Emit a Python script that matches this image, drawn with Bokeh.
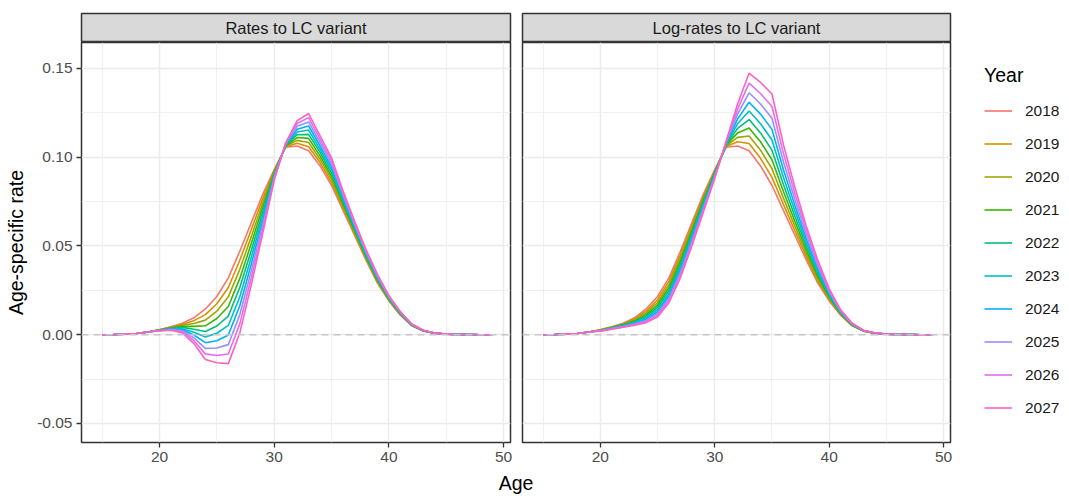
from bokeh.plotting import figure
from bokeh.layouts import row, column
from bokeh.models import (Range1d, FixedTicker, NumeralTickFormatter, Span, Label,
                          Legend, LegendItem)
from bokeh.embed import file_html
from bokeh.resources import INLINE

# ---------------- data ----------------
ages = [15, 16, 17, 18, 19, 20, 21, 22, 23, 24, 25, 26, 27, 28, 29, 30, 31, 32,
        33, 34, 35, 36, 37, 38, 39, 40, 41, 42, 43, 44, 45, 46, 47, 48, 49]
years = ["2018", "2019", "2020", "2021", "2022", "2023", "2024", "2025", "2026", "2027"]
colors = ["#F8766D", "#D89000", "#A3A500", "#39B600", "#00BF7D",
          "#00BFC4", "#00B0F6", "#9590FF", "#E76BF3", "#FF62BC"]
panel_titles = ["Rates to LC variant", "Log-rates to LC variant"]

# Panel 1: rates to LC variant
rates_2018 = [0.0000, 0.0001, 0.0003, 0.0007, 0.0015, 0.0028, 0.0045, 0.0065, 0.0095, 0.0145, 0.0215, 0.0320, 0.0470, 0.0630, 0.0790, 0.0930, 0.1055, 0.1062, 0.1035, 0.0950, 0.0840, 0.0700, 0.0560, 0.0420, 0.0290, 0.0190, 0.0110, 0.0050, 0.0020, 0.0008, 0.0003, 0.0001, 0.0001, 0.0000, 0.0000]
rates_2019 = [0.0000, 0.0001, 0.0003, 0.0007, 0.0015, 0.0027, 0.0043, 0.0059, 0.0079, 0.0113, 0.0174, 0.0266, 0.0419, 0.0591, 0.0766, 0.0923, 0.1058, 0.1078, 0.1058, 0.0969, 0.0857, 0.0712, 0.0569, 0.0427, 0.0296, 0.0193, 0.0112, 0.0051, 0.0021, 0.0008, 0.0003, 0.0001, 0.0001, 0.0000, 0.0000]
rates_2020 = [0.0000, 0.0001, 0.0003, 0.0007, 0.0015, 0.0027, 0.0041, 0.0053, 0.0063, 0.0082, 0.0132, 0.0213, 0.0368, 0.0552, 0.0741, 0.0917, 0.1061, 0.1094, 0.1082, 0.0988, 0.0874, 0.0724, 0.0578, 0.0433, 0.0301, 0.0197, 0.0114, 0.0052, 0.0021, 0.0008, 0.0003, 0.0001, 0.0001, 0.0000, 0.0000]
rates_2021 = [0.0000, 0.0001, 0.0003, 0.0007, 0.0015, 0.0026, 0.0038, 0.0047, 0.0047, 0.0050, 0.0091, 0.0159, 0.0317, 0.0513, 0.0717, 0.0910, 0.1063, 0.1110, 0.1105, 0.1007, 0.0892, 0.0737, 0.0587, 0.0440, 0.0307, 0.0200, 0.0117, 0.0053, 0.0022, 0.0008, 0.0003, 0.0001, 0.0001, 0.0000, 0.0000]
rates_2022 = [0.0000, 0.0001, 0.0003, 0.0007, 0.0015, 0.0025, 0.0036, 0.0041, 0.0031, 0.0018, 0.0049, 0.0105, 0.0266, 0.0474, 0.0692, 0.0903, 0.1066, 0.1126, 0.1128, 0.1026, 0.0909, 0.0749, 0.0596, 0.0447, 0.0312, 0.0203, 0.0119, 0.0054, 0.0022, 0.0008, 0.0003, 0.0001, 0.0001, 0.0000, 0.0000]
rates_2023 = [0.0000, 0.0001, 0.0003, 0.0007, 0.0015, 0.0025, 0.0034, 0.0034, 0.0014, -0.0013, 0.0008, 0.0052, 0.0214, 0.0436, 0.0668, 0.0897, 0.1069, 0.1141, 0.1152, 0.1044, 0.0926, 0.0761, 0.0604, 0.0453, 0.0318, 0.0207, 0.0121, 0.0056, 0.0023, 0.0009, 0.0003, 0.0001, 0.0001, 0.0000, 0.0000]
rates_2024 = [0.0000, 0.0001, 0.0003, 0.0007, 0.0015, 0.0024, 0.0032, 0.0028, -0.0002, -0.0045, -0.0034, -0.0002, 0.0163, 0.0397, 0.0643, 0.0890, 0.1072, 0.1157, 0.1175, 0.1063, 0.0943, 0.0773, 0.0613, 0.0460, 0.0323, 0.0210, 0.0123, 0.0057, 0.0023, 0.0009, 0.0003, 0.0001, 0.0001, 0.0000, 0.0000]
rates_2025 = [0.0000, 0.0001, 0.0003, 0.0007, 0.0015, 0.0023, 0.0029, 0.0022, -0.0018, -0.0077, -0.0075, -0.0056, 0.0112, 0.0358, 0.0619, 0.0883, 0.1074, 0.1173, 0.1198, 0.1082, 0.0961, 0.0786, 0.0622, 0.0467, 0.0329, 0.0213, 0.0126, 0.0058, 0.0024, 0.0009, 0.0003, 0.0001, 0.0001, 0.0000, 0.0000]
rates_2026 = [0.0000, 0.0001, 0.0003, 0.0007, 0.0015, 0.0023, 0.0027, 0.0016, -0.0034, -0.0108, -0.0117, -0.0109, 0.0061, 0.0319, 0.0594, 0.0877, 0.1077, 0.1189, 0.1222, 0.1101, 0.0978, 0.0798, 0.0631, 0.0473, 0.0334, 0.0217, 0.0128, 0.0059, 0.0024, 0.0009, 0.0003, 0.0001, 0.0001, 0.0000, 0.0000]
rates_2027 = [0.0000, 0.0001, 0.0003, 0.0007, 0.0015, 0.0022, 0.0025, 0.0010, -0.0050, -0.0140, -0.0158, -0.0163, 0.0010, 0.0280, 0.0570, 0.0870, 0.1080, 0.1205, 0.1245, 0.1120, 0.0995, 0.0810, 0.0640, 0.0480, 0.0340, 0.0220, 0.0130, 0.0060, 0.0025, 0.0009, 0.0003, 0.0001, 0.0001, 0.0000, 0.0000]

# Panel 2: log-rates to LC variant
logr_2018 = [0.0000, 0.0001, 0.0003, 0.0007, 0.0015, 0.0028, 0.0045, 0.0065, 0.0095, 0.0145, 0.0215, 0.0320, 0.0470, 0.0630, 0.0790, 0.0930, 0.1055, 0.1062, 0.1035, 0.0950, 0.0840, 0.0700, 0.0560, 0.0420, 0.0290, 0.0190, 0.0110, 0.0050, 0.0020, 0.0008, 0.0003, 0.0001, 0.0001, 0.0000, 0.0000]
logr_2019 = [0.0000, 0.0001, 0.0003, 0.0007, 0.0015, 0.0027, 0.0043, 0.0062, 0.0089, 0.0133, 0.0197, 0.0300, 0.0450, 0.0614, 0.0778, 0.0924, 0.1059, 0.1086, 0.1076, 0.0993, 0.0886, 0.0734, 0.0585, 0.0438, 0.0302, 0.0197, 0.0113, 0.0051, 0.0020, 0.0008, 0.0003, 0.0001, 0.0001, 0.0000, 0.0000]
logr_2020 = [0.0000, 0.0001, 0.0003, 0.0007, 0.0015, 0.0026, 0.0041, 0.0059, 0.0083, 0.0123, 0.0181, 0.0282, 0.0432, 0.0598, 0.0767, 0.0919, 0.1063, 0.1111, 0.1119, 0.1039, 0.0934, 0.0769, 0.0611, 0.0456, 0.0315, 0.0204, 0.0116, 0.0053, 0.0021, 0.0008, 0.0003, 0.0001, 0.0001, 0.0000, 0.0000]
logr_2021 = [0.0000, 0.0001, 0.0003, 0.0007, 0.0015, 0.0025, 0.0040, 0.0056, 0.0078, 0.0113, 0.0167, 0.0264, 0.0414, 0.0583, 0.0755, 0.0913, 0.1067, 0.1136, 0.1164, 0.1086, 0.0985, 0.0806, 0.0639, 0.0475, 0.0328, 0.0211, 0.0119, 0.0055, 0.0021, 0.0008, 0.0003, 0.0001, 0.0001, 0.0000, 0.0000]
logr_2022 = [0.0000, 0.0001, 0.0003, 0.0007, 0.0015, 0.0024, 0.0038, 0.0054, 0.0073, 0.0104, 0.0153, 0.0248, 0.0396, 0.0569, 0.0744, 0.0908, 0.1070, 0.1162, 0.1211, 0.1136, 0.1039, 0.0845, 0.0667, 0.0496, 0.0342, 0.0218, 0.0122, 0.0056, 0.0022, 0.0008, 0.0003, 0.0001, 0.0001, 0.0000, 0.0000]
logr_2023 = [0.0000, 0.0001, 0.0003, 0.0007, 0.0015, 0.0024, 0.0037, 0.0051, 0.0069, 0.0095, 0.0141, 0.0232, 0.0380, 0.0554, 0.0733, 0.0902, 0.1074, 0.1188, 0.1259, 0.1188, 0.1096, 0.0886, 0.0697, 0.0517, 0.0356, 0.0226, 0.0126, 0.0058, 0.0022, 0.0009, 0.0003, 0.0001, 0.0001, 0.0000, 0.0000]
logr_2024 = [0.0000, 0.0001, 0.0003, 0.0007, 0.0015, 0.0023, 0.0035, 0.0049, 0.0064, 0.0087, 0.0129, 0.0218, 0.0364, 0.0540, 0.0722, 0.0897, 0.1078, 0.1215, 0.1309, 0.1242, 0.1156, 0.0929, 0.0728, 0.0539, 0.0371, 0.0234, 0.0129, 0.0060, 0.0023, 0.0009, 0.0003, 0.0001, 0.0001, 0.0000, 0.0000]
logr_2025 = [0.0000, 0.0001, 0.0003, 0.0007, 0.0015, 0.0022, 0.0034, 0.0046, 0.0060, 0.0080, 0.0119, 0.0204, 0.0349, 0.0527, 0.0711, 0.0891, 0.1082, 0.1243, 0.1362, 0.1299, 0.1219, 0.0974, 0.0761, 0.0561, 0.0387, 0.0242, 0.0133, 0.0061, 0.0024, 0.0009, 0.0003, 0.0001, 0.0001, 0.0000, 0.0000]
logr_2026 = [0.0000, 0.0001, 0.0003, 0.0007, 0.0015, 0.0021, 0.0032, 0.0044, 0.0057, 0.0074, 0.0109, 0.0192, 0.0334, 0.0513, 0.0700, 0.0886, 0.1086, 0.1271, 0.1416, 0.1358, 0.1285, 0.1021, 0.0795, 0.0585, 0.0403, 0.0251, 0.0136, 0.0063, 0.0024, 0.0009, 0.0003, 0.0001, 0.0001, 0.0000, 0.0000]
logr_2027 = [0.0000, 0.0001, 0.0003, 0.0007, 0.0015, 0.0020, 0.0031, 0.0042, 0.0053, 0.0068, 0.0100, 0.0180, 0.0320, 0.0500, 0.0690, 0.0880, 0.1090, 0.1300, 0.1472, 0.1420, 0.1355, 0.1070, 0.0830, 0.0610, 0.0420, 0.0260, 0.0140, 0.0065, 0.0025, 0.0009, 0.0003, 0.0001, 0.0001, 0.0000, 0.0000]

x_ticks = [20, 30, 40, 50]
x_minor = [15, 25, 35, 45]
y_ticks = [-0.05, 0.0, 0.05, 0.10, 0.15]
y_minor = [-0.025, 0.025, 0.075, 0.125]

rates_series = [rates_2018, rates_2019, rates_2020, rates_2021, rates_2022,
                rates_2023, rates_2024, rates_2025, rates_2026, rates_2027]
logr_series = [logr_2018, logr_2019, logr_2020, logr_2021, logr_2022,
               logr_2023, logr_2024, logr_2025, logr_2026, logr_2027]

# ---------------- styling ----------------
FONT = "Liberation Sans"
X_RANGE = (13.2, 50.6)
Y_RANGE = (-0.0607, 0.1645)
GRID = "#ebebeb"
BORDER = "#333333"


def make_strip(text, left_b, right_b, frame_w):
    s = figure(frame_width=frame_w, frame_height=29, min_border_left=left_b,
               min_border_right=right_b, min_border_top=13, min_border_bottom=0,
               x_range=Range1d(0, 1), y_range=Range1d(0, 1),
               x_axis_location=None, y_axis_location=None,
               toolbar_location=None, output_backend="svg")
    s.grid.visible = False
    s.background_fill_color = "#d9d9d9"
    s.border_fill_color = "white"
    s.outline_line_color = BORDER
    s.outline_line_width = 1.5
    s.add_layout(Label(x=0.5, y=0.5, text=text, text_align="center",
                       text_baseline="middle", text_font=FONT,
                       text_font_size="16.5px", text_color="#1a1a1a"))
    return s


def make_panel(series, left_b, right_b, frame_w, show_y):
    p = figure(frame_width=frame_w, frame_height=400, min_border_left=left_b,
               min_border_right=right_b, min_border_top=0, min_border_bottom=30,
               x_range=Range1d(*X_RANGE), y_range=Range1d(*Y_RANGE),
               y_axis_location="left" if show_y else None,
               toolbar_location=None, output_backend="svg")
    p.background_fill_color = "white"
    p.border_fill_color = "white"
    p.outline_line_color = BORDER
    p.outline_line_width = 1.5

    xt = FixedTicker(ticks=x_ticks, minor_ticks=x_minor)
    yt = FixedTicker(ticks=y_ticks, minor_ticks=y_minor)
    p.xgrid.ticker = xt
    p.ygrid.ticker = yt
    for g in (p.xgrid, p.ygrid):
        g.grid_line_color = GRID
        g.grid_line_width = 1.4
        g.minor_grid_line_color = GRID
        g.minor_grid_line_width = 0.8

    p.xaxis.ticker = xt
    p.xaxis.axis_line_color = None
    p.xaxis.major_tick_line_color = BORDER
    p.xaxis.major_tick_line_width = 1.3
    p.xaxis.major_tick_out = 5
    p.xaxis.major_tick_in = 0
    p.xaxis.minor_tick_line_color = None
    p.xaxis.major_label_text_font = FONT
    p.xaxis.major_label_text_font_size = "15.5px"
    p.xaxis.major_label_text_color = "#4d4d4d"
    p.xaxis.major_label_standoff = 4

    if show_y:
        p.yaxis.ticker = yt
        p.yaxis.formatter = NumeralTickFormatter(format="0.00")
        p.yaxis.axis_line_color = None
        p.yaxis.major_tick_line_color = BORDER
        p.yaxis.major_tick_line_width = 1.3
        p.yaxis.major_tick_out = 5
        p.yaxis.major_tick_in = 0
        p.yaxis.minor_tick_line_color = None
        p.yaxis.major_label_text_font = FONT
        p.yaxis.major_label_text_font_size = "15.5px"
        p.yaxis.major_label_text_color = "#4d4d4d"
        p.yaxis.major_label_standoff = 4
        p.yaxis.axis_label = "Age-specific rate"
        p.yaxis.axis_label_text_font = FONT
        p.yaxis.axis_label_text_font_size = "19.5px"
        p.yaxis.axis_label_text_font_style = "normal"
        p.yaxis.axis_label_text_color = "black"
        p.yaxis.axis_label_standoff = 7

    for vals, c in zip(series, colors):
        p.line(ages, vals, line_color=c, line_width=1.6)
    p.add_layout(Span(location=0, dimension="width", line_color="#c6c6cc",
                      line_dash="7 5", line_width=1.6))
    return p


strip_l = make_strip(panel_titles[0], 81, 6, 429)
main_l = make_panel(rates_series, 81, 6, 429, True)
strip_r = make_strip(panel_titles[1], 6, 6, 428)
main_r = make_panel(logr_series, 6, 6, 428, False)

# legend panel (its own renderers are drawn outside its visible range; only the keys show)
leg = figure(frame_width=91, frame_height=406, min_border_left=28,
             min_border_right=0, min_border_top=64, min_border_bottom=0,
             x_range=Range1d(0, 1), y_range=Range1d(0, 1),
             x_axis_location=None, y_axis_location=None,
             toolbar_location=None, output_backend="svg")
leg.grid.visible = False
leg.outline_line_color = None
items = []
for yr, vals, c in zip(years, rates_series, colors):
    r = leg.line(ages, vals, line_color=c, line_width=1.6)
    items.append(LegendItem(label=yr, renderers=[r]))
legend = Legend(items=items, location="top_left", title="Year",
                title_text_font=FONT, title_text_font_size="19.5px",
                title_text_font_style="normal", title_text_color="black",
                title_standoff=7,
                label_text_font=FONT, label_text_font_size="15.5px",
                label_text_color="#1a1a1a", label_standoff=13,
                glyph_width=28, glyph_height=33, label_height=33, spacing=0,
                padding=0, margin=0, border_line_color=None,
                background_fill_alpha=0)
leg.add_layout(legend)

# bottom: shared x-axis title
bottom = figure(frame_width=1069, frame_height=27, min_border=0,
                x_range=Range1d(0, 1), y_range=Range1d(0, 1),
                x_axis_location=None, y_axis_location=None,
                toolbar_location=None, output_backend="svg")
bottom.grid.visible = False
bottom.outline_line_color = None
bottom.add_layout(Label(x=515.5, y=17, x_units="screen", y_units="screen",
                        text="Age", text_align="center", text_baseline="alphabetic",
                        text_font=FONT, text_font_size="19.5px", text_color="black"))

layout = column(row(column(strip_l, main_l), column(strip_r, main_r), leg), bottom)

open("out.html", "w").write(file_html(layout, INLINE))
